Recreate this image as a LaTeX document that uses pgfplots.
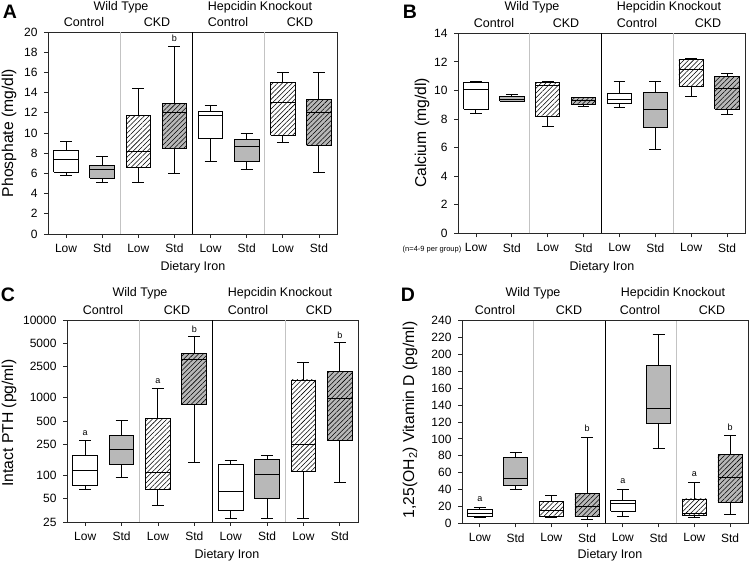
\documentclass[border=0pt]{standalone}
\usepackage{fontspec}
\setmainfont{Liberation Sans}
\usepackage{pgfplots}
\pgfplotsset{compat=1.18}
\usetikzlibrary{patterns.meta}
\definecolor{boxgray}{RGB}{184,184,184}
\definecolor{divgray}{RGB}{195,195,195}
\definecolor{frame}{RGB}{40,40,40}
\newcommand\ticfont{\fontsize{12bp}{13.5bp}\selectfont}
\newcommand\hdfont{\fontsize{12.5bp}{14bp}\selectfont}
\newcommand\ylfont{\fontsize{15.7bp}{18bp}\selectfont}
\newcommand\anfont{\fontsize{9bp}{10bp}\selectfont}
\newcommand\lefont{\fontsize{19.5bp}{22bp}\selectfont\bfseries}
\newcommand\nfont{\fontsize{7.5bp}{8bp}\selectfont}

\tikzset{hpat/.style={postaction={pattern={Lines[angle=45,distance=3.4pt,line width=0.55pt]}}}}
\pgfplotsset{
 panel/.style={scale only axis, xmin=0.5, xmax=8.5, xtick={1,...,8},
   xticklabels={Low,Std,Low,Std,Low,Std,Low,Std},
   tick align=outside, tick pos=left, major tick length=4bp, minor tick num=0,
   clip=false, axis line style={line width=0.9bp, frame},
   every tick/.style={line width=0.8bp, frame},
   ticklabel style={font=\ticfont},
   yticklabel style={xshift=-3bp},
   xticklabel style={yshift=-2.5bp},
   /pgf/number format/assume math mode=true},
 lbw/.style={draw=black, line width=0.9bp, fill=white},
 lbg/.style={draw=black, line width=0.9bp, fill=boxgray},
 lhw/.style={draw=black, line width=0.9bp, fill=white, hpat},
 lhg/.style={draw=black, line width=0.9bp, fill=boxgray, hpat},
 mline/.style={draw=black, line width=0.9bp},
}
% box: style, position, lower whisker, Q1, median, Q3, upper whisker
\newcommand\LBX[7]{%
 \pgfmathsetmacro\xa{#2-0.34}\pgfmathsetmacro\xb{#2+0.34}%
 \pgfmathsetmacro\ca{#2-0.165}\pgfmathsetmacro\cb{#2+0.165}%
 \addplot[#1] coordinates {(\xa,#4) (\xb,#4) (\xb,#6) (\xa,#6) (\xa,#4)};
 \addplot[mline] coordinates {(\xa,#5) (\xb,#5)};
 \addplot[mline] coordinates {(#2,#6) (#2,#7)};
 \addplot[mline] coordinates {(\ca,#7) (\cb,#7)};
 \addplot[mline] coordinates {(#2,#4) (#2,#3)};
 \addplot[mline] coordinates {(\ca,#3) (\cb,#3)};}
\newcommand\DIV[2]{%
 \addplot[divgray, line width=0.9bp] coordinates {(2.5,#1) (2.5,#2)};
 \addplot[divgray, line width=0.9bp] coordinates {(6.5,#1) (6.5,#2)};
 \addplot[black, line width=0.9bp] coordinates {(4.5,#1) (4.5,#2)};}

\begin{document}
\begin{tikzpicture}
\path[use as bounding box] (0,0) rectangle (750bp,562bp);

% ---------- A ----------
\begin{axis}[panel, at={(48bp,328bp)}, anchor=south west, width=289bp, height=202bp,
  ymin=0, ymax=20, ytick={0,2,...,20}]
\DIV{0}{20}
\LBX{lbw}{1}{5.8}{6.1}{7.4}{8.3}{9.2}
\LBX{lbg}{2}{5.1}{5.5}{6.4}{6.8}{7.7}
\LBX{lhw}{3}{5.1}{6.6}{8.2}{11.7}{14.4}
\LBX{lhg}{4}{6.0}{8.5}{12.0}{12.9}{18.6}
\LBX{lbw}{5}{7.2}{9.5}{11.7}{12.1}{12.7}
\LBX{lbg}{6}{6.4}{7.2}{8.7}{9.4}{10.0}
\LBX{lhw}{7}{9.1}{9.8}{13.0}{15.0}{16.0}
\LBX{lhg}{8}{6.1}{8.8}{12.0}{13.3}{16.0}
\node[font=\anfont] at (axis cs:4,19.35) {b};
\end{axis}

% ---------- B ----------
\begin{axis}[panel, at={(458bp,328.7bp)}, anchor=south west, width=287bp, height=200bp,
  ymin=0, ymax=14, ytick={0,2,...,14}]
\DIV{0}{14}
\LBX{lbw}{1}{8.4}{8.7}{10.05}{10.55}{10.6}
\LBX{lbg}{2}{9.2}{9.25}{9.4}{9.6}{9.7}
\LBX{lhw}{3}{7.5}{8.2}{10.35}{10.55}{10.6}
\LBX{lhg}{4}{8.9}{9.05}{9.3}{9.5}{9.52}
\LBX{lbw}{5}{8.8}{9.1}{9.4}{9.8}{10.6}
\LBX{lbg}{6}{5.9}{7.4}{8.7}{9.85}{10.6}
\LBX{lhw}{7}{9.6}{10.25}{11.45}{12.2}{12.22}
\LBX{lhg}{8}{8.3}{8.7}{10.15}{11.0}{11.2}
\end{axis}

% ---------- C ----------
\begin{axis}[panel, at={(67bp,40bp)}, anchor=south west, width=291bp, height=202bp,
  ymode=log, ymin=25, ymax=10000, ytick={25,50,100,250,500,1000,2500,5000,10000},
  yticklabels={25,50,100,250,500,1000,2500,5000,10000}]
\DIV{25}{10000}
\LBX{lbw}{1}{64.7}{73.6}{117}{179}{277}
\LBX{lbg}{2}{92.5}{136}{216}{327}{506}
\LBX{lhw}{3}{41.1}{64.7}{109}{537}{1306}
\LBX{lhg}{4}{147}{805}{3120}{3726}{6100}
\LBX{lbw}{5}{27.4}{34.7}{62.2}{136}{156}
\LBX{lbg}{6}{27.7}{50.1}{103}{159}{179}
\LBX{lhw}{7}{27.4}{112}{251}{1688}{2850}
\LBX{lhg}{8}{81.2}{285}{980}{2183}{5110}
\node[font=\anfont] at (axis cs:1,347) {a};
\node[font=\anfont] at (axis cs:3,1640) {a};
\node[font=\anfont] at (axis cs:4,7580) {b};
\node[font=\anfont] at (axis cs:8,6410) {b};
\end{axis}

% ---------- D ----------
\begin{axis}[panel, at={(462bp,38.7bp)}, anchor=south west, width=286bp, height=202.6bp,
  ymin=0, ymax=240, ytick={0,20,...,240}]
\DIV{0}{240}
\LBX{lbw}{1}{6.6}{7.8}{11.8}{16.6}{18.5}
\LBX{lbg}{2}{40.3}{44.6}{52.9}{78.2}{83.7}
\LBX{lhw}{3}{7.1}{8.6}{15}{25.6}{33.5}
\LBX{lhg}{4}{5.1}{7.8}{20.5}{35.5}{101.8}
\LBX{lbw}{5}{7.8}{14.6}{23.7}{26.8}{40.6}
\LBX{lbg}{6}{88.4}{118}{136.6}{187}{223.8}
\LBX{lhw}{7}{7.5}{9.0}{12}{28.8}{48}
\LBX{lhg}{8}{10.7}{24.9}{54.5}{81.3}{104.2}
\node[font=\anfont] at (axis cs:1,28.8) {a};
\node[font=\anfont] at (axis cs:4,112) {b};
\node[font=\anfont] at (axis cs:5,50) {a};
\node[font=\anfont] at (axis cs:7,58) {a};
\node[font=\anfont] at (axis cs:8,114) {b};
\end{axis}

% ---------- texts (image px -> x, 562-y) ----------
% A
\node[font=\lefont] at (10bp,550.5bp) {A};
\node[font=\hdfont] at (121bp,555bp) {Wild Type};
\node[font=\hdfont] at (260bp,555bp) {Hepcidin Knockout};
\node[font=\hdfont] at (84bp,540bp) {Control};
\node[font=\hdfont] at (157bp,540bp) {CKD};
\node[font=\hdfont] at (228bp,540bp) {Control};
\node[font=\hdfont] at (300bp,540bp) {CKD};
\node[font=\hdfont] at (193bp,295bp) {Dietary Iron};
\node[font=\ylfont, rotate=90] at (9bp,429bp) {Phosphate (mg/dl)};
% B
\node[font=\lefont] at (410bp,550.5bp) {B};
\node[font=\hdfont] at (532bp,555bp) {Wild Type};
\node[font=\hdfont] at (669bp,555bp) {Hepcidin Knockout};
\node[font=\hdfont] at (494bp,539bp) {Control};
\node[font=\hdfont] at (566bp,539bp) {CKD};
\node[font=\hdfont] at (637bp,539bp) {Control};
\node[font=\hdfont] at (708bp,539bp) {CKD};
\node[font=\hdfont] at (602bp,295bp) {Dietary Iron};
\node[font=\ylfont, rotate=90] at (422bp,429bp) {Calcium (mg/dl)};
\node[font=\nfont] at (432bp,312bp) {(n=4-9 per group)};
% C
\node[font=\lefont] at (8bp,267bp) {C};
\node[font=\hdfont] at (140bp,269bp) {Wild Type};
\node[font=\hdfont] at (280bp,269bp) {Hepcidin Knockout};
\node[font=\hdfont] at (103bp,252bp) {Control};
\node[font=\hdfont] at (177bp,252bp) {CKD};
\node[font=\hdfont] at (248bp,252bp) {Control};
\node[font=\hdfont] at (319bp,252bp) {CKD};
\node[font=\hdfont] at (227bp,7bp) {Dietary Iron};
\node[font=\ylfont, rotate=90] at (9bp,139bp) {Intact PTH (pg/ml)};
% D
\node[font=\lefont] at (408bp,267bp) {D};
\node[font=\hdfont] at (533bp,269bp) {Wild Type};
\node[font=\hdfont] at (673bp,269bp) {Hepcidin Knockout};
\node[font=\hdfont] at (495bp,252bp) {Control};
\node[font=\hdfont] at (569bp,252bp) {CKD};
\node[font=\hdfont] at (640bp,252bp) {Control};
\node[font=\hdfont] at (712bp,252bp) {CKD};
\node[font=\hdfont] at (610bp,7bp) {Dietary Iron};
\node[font=\ylfont, rotate=90] at (410bp,142bp) {1,25(OH\textsubscript{2}) Vitamin D (pg/ml)};
\end{tikzpicture}
\end{document}
